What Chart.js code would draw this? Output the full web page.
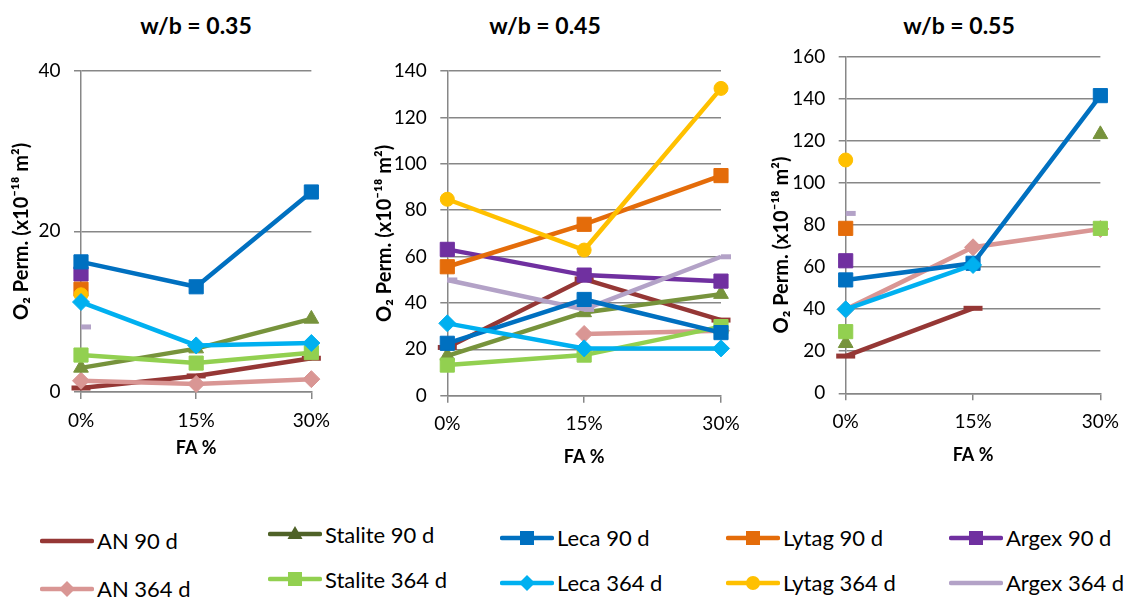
<!DOCTYPE html>
<html>
<head>
<meta charset="utf-8">
<script src="https://cdn.jsdelivr.net/npm/chart.js@4.4.1/dist/chart.umd.min.js"></script>
<style>
  body { margin: 0; background: #fff; width: 1129px; height: 598px; position: relative; overflow: hidden; font-family: Lato, sans-serif; }
  canvas { position: absolute; top: 0; }
  .title { position: absolute; top: 12px; width: 200px; text-align: center; font: bold 23px Lato; line-height: 26px; color: #000; }
  .leg { position: absolute; height: 30px; display: flex; align-items: center; font: 22px Lato; color: #000; white-space: nowrap; }
  .leg svg { margin-right: 3px; }
</style>
</head>
<body>
<div class="title" style="left:96px">w/b = 0.35</div>
<div class="title" style="left:445px">w/b = 0.45</div>
<div class="title" style="left:859px">w/b = 0.55</div>
<canvas id="c1" width="340" height="470" style="left:0px"></canvas>
<canvas id="c2" width="400" height="480" style="left:350px"></canvas>
<canvas id="c3" width="379" height="480" style="left:750px"></canvas>
<div id="legend"></div>

<script>
// FA replacement levels (x axis)
const categories = ['0%', '15%', '30%'];

// one row per panel: w/b = 0.35, 0.45, 0.55 (x10^-18 m2)
const AN_90       = [[0.5, 2.0, 4.2],   [20.8, 50.3, 32.6],  [17.7, 40.4, null]];
const AN_364      = [[1.4, 1.0, 1.6],   [null, 26.6, 28.0],  [39.9, 69.4, 78.1]];
const STALITE_90  = [[3.0, 5.4, 9.1],   [17.2, 35.9, 43.8],  [23.8, null, 123.1]];
const STALITE_364 = [[4.6, 3.6, 4.9],   [13.2, 17.5, 29.8],  [29.3, null, 78.4]];
const ARGEX_90    = [[14.7, null, null],[63.1, 52.0, 49.4],  [63.0, null, null]];
const ARGEX_364   = [[8.1, null, null], [49.9, 37.2, 59.9],  [85.5, null, null]];
const LYTAG_90    = [[12.8, null, null],[55.6, 73.9, 94.9],  [78.4, null, null]];
const LYTAG_364   = [[12.1, null, null],[84.7, 62.8, 132.5], [110.9, null, null]];
const LECA_90     = [[16.2, 13.1, 24.9],[22.6, 41.5, 27.2],  [53.9, 61.8, 141.5]];
const LECA_364    = [[11.2, 5.8, 6.1],  [31.2, 20.4, 20.4],  [39.9, 61.0, null]];

const panelTitles = ['w/b = 0.35', 'w/b = 0.45', 'w/b = 0.55'];
const yMaxes = [40, 140, 160];
const yStep = 20;

// draw order (later ones on top)
const seriesNames = ['AN 90 d', 'AN 364 d', 'Stalite 90 d', 'Stalite 364 d', 'Argex 90 d',
  'Argex 364 d', 'Lytag 90 d', 'Lytag 364 d', 'Leca 90 d', 'Leca 364 d'];
const seriesData = [AN_90, AN_364, STALITE_90, STALITE_364, ARGEX_90,
  ARGEX_364, LYTAG_90, LYTAG_364, LECA_90, LECA_364];
const colors = ['#953735', '#D99694', '#77933C', '#92D050', '#7030A0',
  '#B3A2C7', '#E46C0A', '#FFC000', '#0070C0', '#00B0F0'];
const markers = ['line', 'rectRot', 'triangle', 'rect', 'rect',
  'dash', 'rect', 'circle', 'rect', 'rectRot'];

// legend reads row by row
const legendRows = [
  ['AN 90 d', 'Stalite 90 d', 'Leca 90 d', 'Lytag 90 d', 'Argex 90 d'],
  ['AN 364 d', 'Stalite 364 d', 'Leca 364 d', 'Lytag 364 d', 'Argex 364 d']
];

const GRID = '#878787';
Chart.defaults.font.family = 'Lato';
Chart.defaults.color = '#000';

const radiusFor = { rect: 10, rectRot: 8.5, triangle: 8.5, circle: 7, line: 9.5, dash: 10 };

// plot boxes, in canvas coordinates
const boxes = [
  { id: 'c1', w: 340, h: 470, left: 81,   top: 70.7, right: 312, bottom: 392,   yTitle: 10,   xTitle: 11.2, pad: '' },
  { id: 'c2', w: 400, h: 480, left: 97.3, top: 71,   right: 371, bottom: 395.7, yTitle: 23,   xTitle: 12.5, pad: '' },
  { id: 'c3', w: 379, h: 480, left: 95.7, top: 56.7, right: 355, bottom: 393.3, yTitle: 19.7, xTitle: 14.2, pad: '\u2002\u2002\u2002\u2002' }
];

boxes.forEach((b, p) => {
  const datasets = seriesNames.map((name, i) => {
    const m = markers[i];
    const stroke = (m === 'line' || m === 'dash');
    return {
      label: name,
      data: seriesData[i][p],
      borderColor: colors[i],
      backgroundColor: colors[i],
      borderWidth: 4.5,
      pointStyle: m,
      pointRadius: radiusFor[m],
      pointBorderWidth: stroke ? 5 : 1,
      pointBackgroundColor: colors[i],
      pointBorderColor: colors[i],
      tension: 0,
      spanGaps: false,
      clip: false,
      order: -i
    };
  });

  new Chart(document.getElementById(b.id), {
    type: 'line',
    data: { labels: categories, datasets: datasets },
    options: {
      responsive: false,
      animation: false,
      events: [],
      layout: { padding: { left: 0, top: b.top, right: b.w - b.right, bottom: 0 } },
      plugins: { legend: { display: false }, tooltip: { enabled: false } },
      scales: {
        x: {
          type: 'category',
          offset: false,
          grid: { drawOnChartArea: false, drawTicks: true, tickLength: 7, color: GRID, lineWidth: 1.5 },
          border: { color: GRID, width: 1.5 },
          ticks: { padding: 10, font: { size: 19 }, maxRotation: 0, autoSkip: false },
          title: { display: true, text: 'FA %', font: { size: 18, weight: 'bold' }, padding: { top: 0, bottom: b.xTitle } },
          afterFit: (s) => { s.height = b.h - b.bottom; }
        },
        y: {
          min: 0,
          max: yMaxes[p],
          grid: { color: GRID, lineWidth: 1.5, tickLength: 7 },
          border: { color: GRID, width: 1.5 },
          ticks: { stepSize: yStep, padding: 13.5, font: { size: 19 } },
          title: { display: true, text: 'O\u2082 Perm. (x10\u207B\u00B9\u2078 m\u00B2)' + b.pad, font: { size: 20, weight: 'bold' }, padding: { top: b.yTitle, bottom: 0 } },
          afterFit: (s) => { s.width = b.left; }
        }
      }
    }
  });
});

// legend swatches
const legendX = [40, 268, 500, 726, 949];
const legendY = [[540.5, 534, 537.5, 537.5, 537.5], [588.5, 579, 582.5, 582.5, 582.5]];
const legendColorOverride = { 'Stalite 90 d': '#4F6228' };

function swatch(name) {
  const i = seriesNames.indexOf(name);
  const c = legendColorOverride[name] || colors[i];
  const m = markers[i];
  let mk = '';
  if (m === 'rect') mk = `<rect x="20" y="8" width="14" height="14" fill="${c}"/>`;
  else if (m === 'rectRot') mk = `<polygon points="27,7 35,15 27,23 19,15" fill="${c}"/>`;
  else if (m === 'triangle') mk = `<polygon points="27,7 34.5,20 19.5,20" fill="${c}"/>`;
  else if (m === 'circle') mk = `<circle cx="27" cy="15" r="7" fill="${c}"/>`;
  return `<svg width="54" height="30"><line x1="2" y1="15" x2="52" y2="15" stroke="${c}" stroke-width="4.5" stroke-linecap="round"/>${mk}</svg>`;
}

const legend = document.getElementById('legend');
legendRows.forEach((row, r) => {
  row.forEach((name, k) => {
    const d = document.createElement('div');
    d.className = 'leg';
    d.style.left = legendX[k] + 'px';
    d.style.top = (legendY[r][k] - 15) + 'px';
    d.innerHTML = swatch(name) + '<span>' + name + '</span>';
    legend.appendChild(d);
  });
});
</script>
</body>
</html>
